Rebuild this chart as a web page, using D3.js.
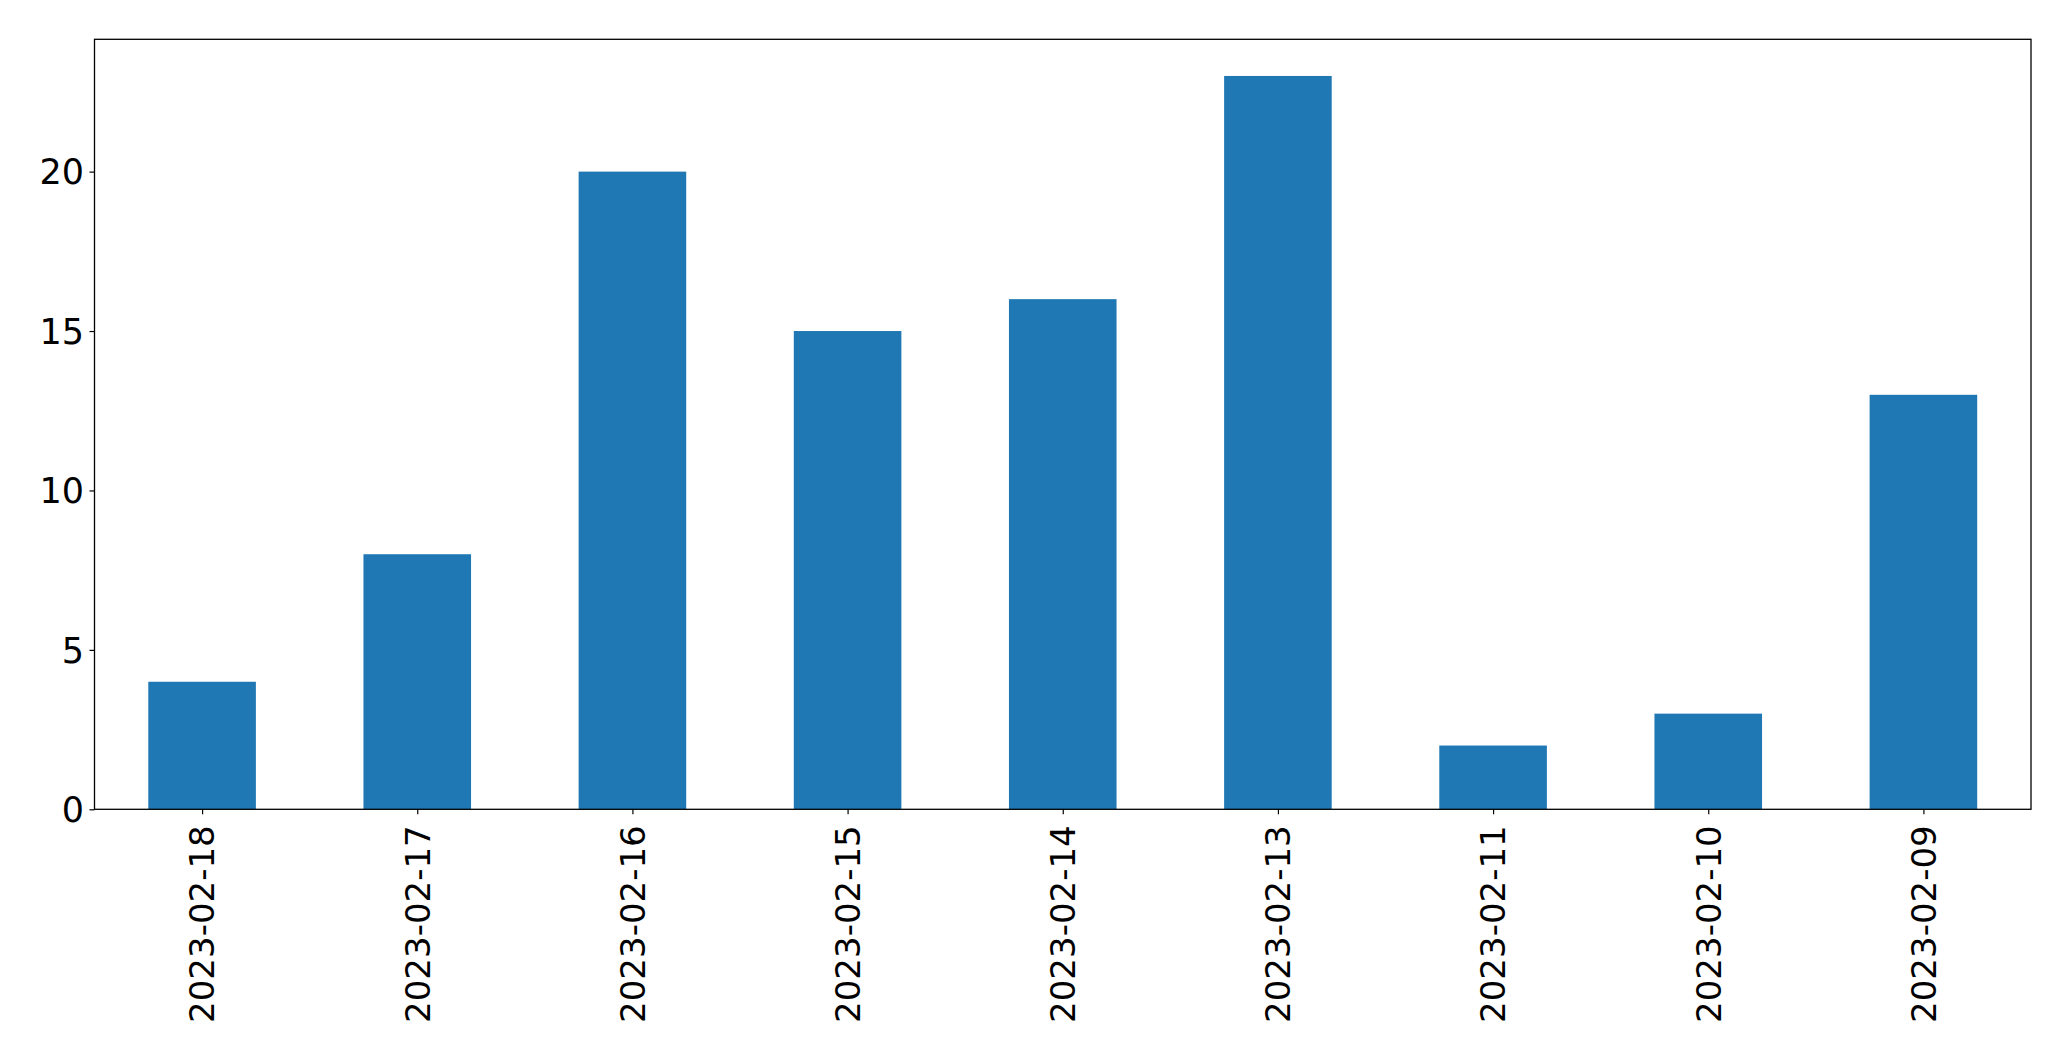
<!DOCTYPE html>
<html><head><meta charset="utf-8">
<script src="https://cdn.jsdelivr.net/npm/d3@7"></script>
<style>body{margin:0;background:#fff}svg{display:block}</style>
</head><body>
<script>
const categories = ["2023-02-18","2023-02-17","2023-02-16","2023-02-15","2023-02-14","2023-02-13","2023-02-11","2023-02-10","2023-02-09"];
const values = [4, 8, 20, 15, 16, 23, 2, 3, 13];
const yTicks = [0, 5, 10, 15, 20];

const W = 2071, H = 1061;
const m = {left: 94.5, right: 2031, top: 39.3, bottom: 809.3};
const svg = d3.select("body").append("svg").attr("width", W).attr("height", H);

const ymax = d3.max(values) * 1.05;
const y = d3.scaleLinear().domain([0, ymax]).range([m.bottom, m.top]);
const x = d3.scaleLinear().domain([-0.5, categories.length - 0.5]).range([m.left, m.right]);
const bw = x(0.25) - x(-0.25);

svg.append("g").selectAll("rect").data(values).join("rect")
  .attr("x", (d, i) => x(i) - bw / 2)
  .attr("width", bw)
  .attr("y", d => y(d))
  .attr("height", d => y(0) - y(d))
  .attr("fill", "#1f77b4");

const font = "DejaVu Sans, sans-serif";

const yAxis = svg.append("g").attr("transform", `translate(${m.left},0)`)
  .call(d3.axisLeft(y).tickValues(yTicks).tickSize(5).tickPadding(5.5).tickFormat(d3.format("d")));
yAxis.select(".domain").remove();
yAxis.selectAll("line").attr("stroke", "#000").attr("stroke-width", 1.2);
yAxis.selectAll("text").attr("font-family", font).attr("font-size", 35).attr("fill", "#000").attr("dy", "0.35em");

const xAxis = svg.append("g").attr("transform", `translate(0,${m.bottom})`)
  .call(d3.axisBottom(x).tickValues(d3.range(categories.length)).tickSize(5).tickFormat(i => categories[i]));
xAxis.select(".domain").remove();
xAxis.selectAll("line").attr("stroke", "#000").attr("stroke-width", 1.2);
xAxis.selectAll("text")
  .attr("font-family", font).attr("font-size", 34).attr("fill", "#000")
  .attr("text-anchor", "end")
  .attr("transform", "rotate(-90)")
  .attr("x", -16).attr("y", 0).attr("dy", "0.35em");

svg.append("rect")
  .attr("x", m.left).attr("y", m.top)
  .attr("width", m.right - m.left).attr("height", m.bottom - m.top)
  .attr("fill", "none").attr("stroke", "#000").attr("stroke-width", 1.3);
</script>
</body></html>
